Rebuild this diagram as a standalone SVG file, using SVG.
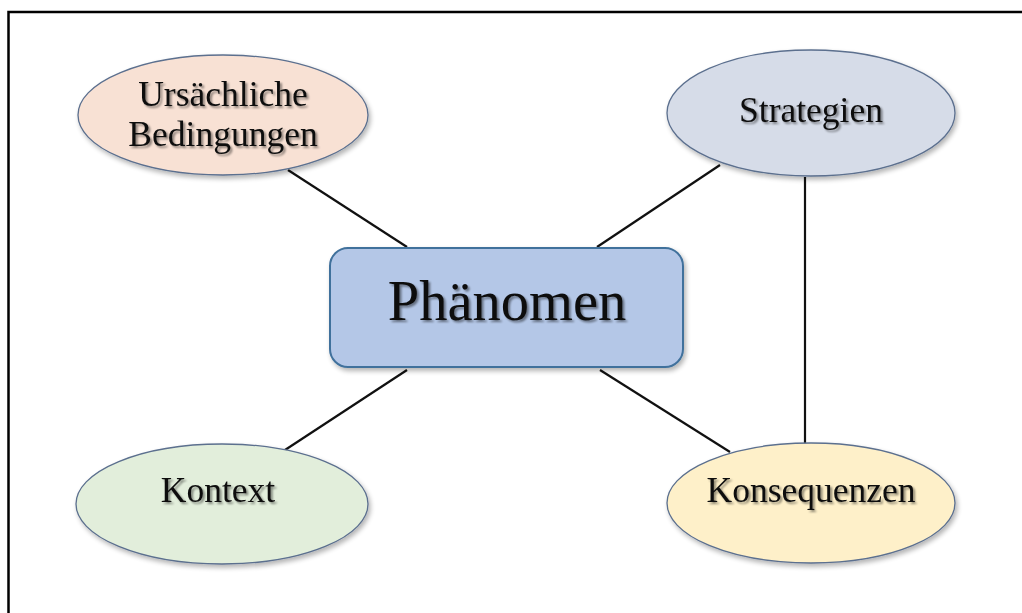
<svg xmlns="http://www.w3.org/2000/svg" width="1022" height="613" viewBox="0 0 1022 613">
<defs>
<filter id="ts" x="-10%" y="-20%" width="130%" height="150%">
<feGaussianBlur in="SourceAlpha" stdDeviation="1.2"/>
<feOffset dx="1.5" dy="2" result="b"/>
<feComponentTransfer><feFuncA type="linear" slope="0.45"/></feComponentTransfer>
<feMerge><feMergeNode/><feMergeNode in="SourceGraphic"/></feMerge>
</filter>
<filter id="ss" x="-10%" y="-10%" width="125%" height="130%">
<feGaussianBlur in="SourceAlpha" stdDeviation="2.5"/>
<feOffset dx="2" dy="3"/>
<feComponentTransfer><feFuncA type="linear" slope="0.3"/></feComponentTransfer>
<feMerge><feMergeNode/><feMergeNode in="SourceGraphic"/></feMerge>
</filter>
</defs>
<style>
.lbl{font-family:"Liberation Serif","Times New Roman",serif;font-size:35.5px;fill:#111;text-anchor:middle;}
.big{font-size:56.5px;}
.ell{stroke:#5b6f8e;stroke-width:1.3;}
.con{stroke:#111;stroke-width:2.2;fill:none;}
</style>
<rect width="1022" height="613" fill="#fff"/>
<path d="M8.5 613 V12 H1022" fill="none" stroke="#000" stroke-width="2.5"/>
<g id="connectors">
<line class="con" x1="288" y1="170" x2="407" y2="247"/>
<line class="con" x1="720" y1="165" x2="597" y2="247"/>
<line class="con" x1="805" y1="177" x2="805" y2="445"/>
<line class="con" x1="407" y1="370" x2="285" y2="450"/>
<line class="con" x1="600" y1="370" x2="730" y2="452"/>
</g>
<g id="ursaechliche">
<ellipse class="ell" cx="223" cy="115" rx="145" ry="60" fill="#f8e1d4" filter="url(#ss)"/>
<text class="lbl" x="223" y="106" filter="url(#ts)">Ursächliche</text>
<text class="lbl" x="223" y="146" filter="url(#ts)">Bedingungen</text>
</g>
<g id="strategien">
<ellipse class="ell" cx="811" cy="113" rx="144" ry="63" fill="#d6dce8" filter="url(#ss)"/>
<text class="lbl" x="811" y="122" filter="url(#ts)">Strategien</text>
</g>
<g id="phaenomen">
<rect x="330" y="248" width="353" height="119" rx="18" fill="#b4c7e7" stroke="#41719c" stroke-width="2" filter="url(#ss)"/>
<text class="lbl big" x="507" y="320" filter="url(#ts)">Phänomen</text>
</g>
<g id="kontext">
<ellipse class="ell" cx="222" cy="504" rx="146" ry="60" fill="#e2eedb" filter="url(#ss)"/>
<text class="lbl" x="218" y="502" filter="url(#ts)">Kontext</text>
</g>
<g id="konsequenzen">
<ellipse class="ell" cx="811" cy="503" rx="144" ry="60" fill="#fef0c9" filter="url(#ss)"/>
<text class="lbl" x="811" y="502" filter="url(#ts)">Konsequenzen</text>
</g>
</svg>
